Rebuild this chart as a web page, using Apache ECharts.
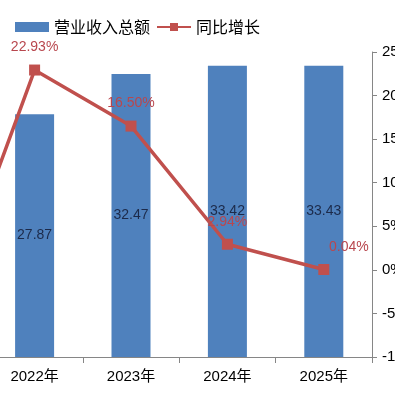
<!DOCTYPE html>
<html>
<head>
<meta charset="utf-8">
<script src="https://cdn.jsdelivr.net/npm/echarts@6/dist/echarts.min.js"></script>
<style>
html,body{margin:0;padding:0;width:395px;height:396px;overflow:hidden;background:#fff;}
#c{position:absolute;left:-150px;top:0;width:545px;height:396px;}
</style>
</head>
<body>
<div id="c"></div>
<script>
const categories = ['2021年', '2022年', '2023年', '2024年', '2025年'];
const revenue = [22.67, 27.87, 32.47, 33.42, 33.43];
const growth = [-7.2, 22.93, 16.50, 2.94, 0.04];
const growthLabels = ['', '22.93%', '16.50%', '2.94%', '0.04%'];
const rightTicks = { min: -10, max: 25, interval: 5 };

const FONT = 'Liberation Sans, Noto Sans CJK SC, sans-serif';
const chart = echarts.init(document.getElementById('c'), null, { renderer: 'canvas' });

const lineData = growth.map((v, i) => {
  const item = { value: v };
  if (i === growth.length - 1) {
    item.label = { offset: [25, 0] };
  }
  return item;
});

chart.setOption({
  animation: false,
  textStyle: { fontFamily: FONT },
  legend: {
    left: 160,
    top: 14,
    itemWidth: 34,
    itemHeight: 10,
    itemGap: 6,
    textStyle: { fontSize: 16, color: '#000', fontFamily: 'Noto Sans CJK SC, sans-serif' },
    data: [
      { name: '营业收入总额', icon: 'rect' },
      { name: '同比增长' }
    ]
  },
  grid: { left: 40, right: 23, top: 52, bottom: 39, containLabel: false, outerBoundsMode: 'none' },
  xAxis: {
    type: 'category',
    data: categories,
    axisLine: { lineStyle: { color: '#868686', width: 1 } },
    axisTick: { show: true, alignWithLabel: false, length: 6, lineStyle: { color: '#868686' } },
    axisLabel: { fontSize: 15, color: '#000', margin: 12, fontFamily: FONT }
  },
  yAxis: [
    {
      type: 'value', min: 0, max: 35, interval: 5,
      show: false,
      splitLine: { show: false }
    },
    {
      type: 'value', position: 'right',
      min: rightTicks.min, max: rightTicks.max, interval: rightTicks.interval,
      axisLine: { show: true, lineStyle: { color: '#868686' } },
      axisTick: { show: true, length: 5, lineStyle: { color: '#868686' } },
      splitLine: { show: false },
      axisLabel: { formatter: '{value}%', fontSize: 15, color: '#000', margin: 10, fontFamily: FONT }
    }
  ],
  series: [
    {
      name: '营业收入总额',
      type: 'bar',
      yAxisIndex: 0,
      data: revenue,
      barWidth: 39,
      itemStyle: { color: '#4f81bd' },
      label: {
        show: true, position: 'inside', color: '#1c2a4a', fontSize: 14,
        fontFamily: FONT,
        formatter: p => p.value.toFixed(2)
      },
      z: 2
    },
    {
      name: '同比增长',
      type: 'line',
      yAxisIndex: 1,
      data: lineData,
      symbol: 'rect',
      symbolSize: 11,
      lineStyle: { color: '#c0504d', width: 3.5 },
      itemStyle: { color: '#c0504d' },
      label: {
        show: true, position: 'top', distance: 10, color: '#b8474e', fontSize: 14,
        fontFamily: FONT,
        formatter: p => growthLabels[p.dataIndex]
      },
      z: 3
    }
  ]
});
</script>
</body>
</html>
